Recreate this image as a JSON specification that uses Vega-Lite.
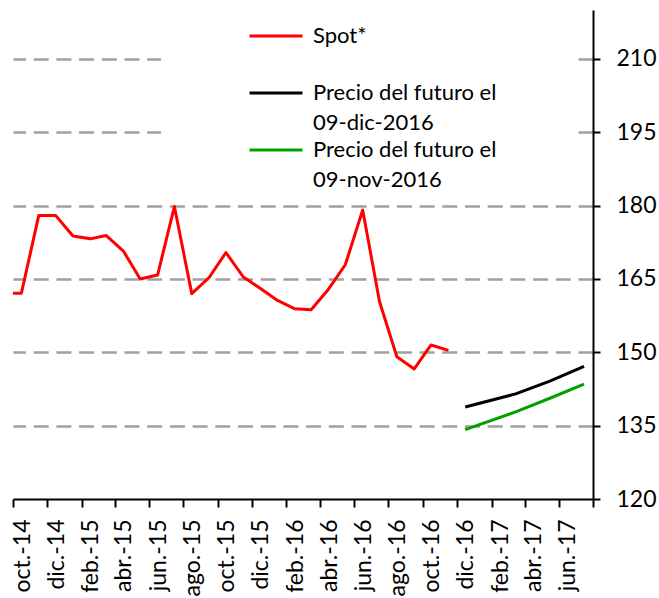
{
  "$schema": "https://vega.github.io/schema/vega-lite/v6.json",
  "autosize": {"type": "none"},
  "width": 580,
  "height": 489,
  "padding": {"left": 13, "top": 10, "right": 66, "bottom": 99},
  "background": "white",
  "config": {
    "view": {"stroke": null},
    "font": "Lato",
    "style": {"guide-label": {"lineHeight": 30}}
  },
  "data": {
    "values": [
      {"fecha": "2014-09-16", "serie": "Spot*", "valor": 162.1},
      {"fecha": "2014-10-16", "serie": "Spot*", "valor": 162.1},
      {"fecha": "2014-11-16", "serie": "Spot*", "valor": 178.0},
      {"fecha": "2014-12-16", "serie": "Spot*", "valor": 178.0},
      {"fecha": "2015-01-16", "serie": "Spot*", "valor": 173.8},
      {"fecha": "2015-02-16", "serie": "Spot*", "valor": 173.2},
      {"fecha": "2015-03-16", "serie": "Spot*", "valor": 173.9},
      {"fecha": "2015-04-16", "serie": "Spot*", "valor": 170.7},
      {"fecha": "2015-05-16", "serie": "Spot*", "valor": 165.0},
      {"fecha": "2015-06-16", "serie": "Spot*", "valor": 165.8},
      {"fecha": "2015-07-16", "serie": "Spot*", "valor": 179.8},
      {"fecha": "2015-08-16", "serie": "Spot*", "valor": 162.0},
      {"fecha": "2015-09-16", "serie": "Spot*", "valor": 165.3},
      {"fecha": "2015-10-16", "serie": "Spot*", "valor": 170.4},
      {"fecha": "2015-11-16", "serie": "Spot*", "valor": 165.4},
      {"fecha": "2015-12-16", "serie": "Spot*", "valor": 163.1},
      {"fecha": "2016-01-16", "serie": "Spot*", "valor": 160.6},
      {"fecha": "2016-02-16", "serie": "Spot*", "valor": 158.9},
      {"fecha": "2016-03-16", "serie": "Spot*", "valor": 158.7},
      {"fecha": "2016-04-16", "serie": "Spot*", "valor": 162.9},
      {"fecha": "2016-05-16", "serie": "Spot*", "valor": 167.9},
      {"fecha": "2016-06-16", "serie": "Spot*", "valor": 179.1},
      {"fecha": "2016-07-16", "serie": "Spot*", "valor": 160.4},
      {"fecha": "2016-08-16", "serie": "Spot*", "valor": 149.1},
      {"fecha": "2016-09-16", "serie": "Spot*", "valor": 146.6},
      {"fecha": "2016-10-16", "serie": "Spot*", "valor": 151.5},
      {"fecha": "2016-11-16", "serie": "Spot*", "valor": 150.4},
      {"fecha": "2016-12-16", "serie": "Precio del futuro el 09-dic-2016", "valor": 138.8},
      {"fecha": "2017-03-16", "serie": "Precio del futuro el 09-dic-2016", "valor": 141.5},
      {"fecha": "2017-05-16", "serie": "Precio del futuro el 09-dic-2016", "valor": 144.1},
      {"fecha": "2017-07-16", "serie": "Precio del futuro el 09-dic-2016", "valor": 147.1},
      {"fecha": "2016-12-16", "serie": "Precio del futuro el 09-nov-2016", "valor": 134.2},
      {"fecha": "2017-03-16", "serie": "Precio del futuro el 09-nov-2016", "valor": 137.8},
      {"fecha": "2017-05-16", "serie": "Precio del futuro el 09-nov-2016", "valor": 140.6},
      {"fecha": "2017-07-16", "serie": "Precio del futuro el 09-nov-2016", "valor": 143.5}
    ]
  },
  "mark": {"type": "line", "clip": true, "strokeWidth": 3, "strokeJoin": "round"},
  "encoding": {
    "x": {
      "field": "fecha",
      "type": "temporal",
      "scale": {
        "type": "utc",
        "domain": [
          {"year": 2014, "month": 10, "date": 1, "utc": true},
          {"year": 2017, "month": 8, "date": 1, "utc": true}
        ]
      },
      "axis": {
        "title": null,
        "grid": false,
        "values": [
          {"year": 2014, "month": 10, "date": 1, "utc": true},
          {"year": 2014, "month": 12, "date": 1, "utc": true},
          {"year": 2015, "month": 2, "date": 1, "utc": true},
          {"year": 2015, "month": 4, "date": 1, "utc": true},
          {"year": 2015, "month": 6, "date": 1, "utc": true},
          {"year": 2015, "month": 8, "date": 1, "utc": true},
          {"year": 2015, "month": 10, "date": 1, "utc": true},
          {"year": 2015, "month": 12, "date": 1, "utc": true},
          {"year": 2016, "month": 2, "date": 1, "utc": true},
          {"year": 2016, "month": 4, "date": 1, "utc": true},
          {"year": 2016, "month": 6, "date": 1, "utc": true},
          {"year": 2016, "month": 8, "date": 1, "utc": true},
          {"year": 2016, "month": 10, "date": 1, "utc": true},
          {"year": 2016, "month": 12, "date": 1, "utc": true},
          {"year": 2017, "month": 2, "date": 1, "utc": true},
          {"year": 2017, "month": 4, "date": 1, "utc": true},
          {"year": 2017, "month": 6, "date": 1, "utc": true},
          {"year": 2017, "month": 8, "date": 1, "utc": true}
        ],
        "labelExpr": "(utcyear(datum.value) == 2017 && utcmonth(datum.value) == 7) ? '' : ['ene.','feb.','mar.','abr.','may.','jun.','jul.','ago.','sept.','oct.','nov.','dic.'][utcmonth(datum.value)] + '-' + utcFormat(datum.value, '%y')",
        "labelAngle": -90,
        "labelOffset": 9,
        "labelPadding": 12,
        "labelFont": "Lato",
        "labelFontSize": 23,
        "labelColor": "black",
        "labelOverlap": false,
        "labelBound": false,
        "labelFlush": false,
        "domainColor": "black",
        "domainWidth": 2,
        "tickColor": "black",
        "tickWidth": 2,
        "tickSize": 8
      }
    },
    "y": {
      "field": "valor",
      "type": "quantitative",
      "scale": {"domain": [120, 220], "nice": false, "zero": false},
      "axis": {
        "title": null,
        "orient": "right",
        "values": [120, 135, 150, 165, 180, 195, 210],
        "grid": true,
        "gridColor": "#A0A0A0",
        "gridWidth": 2.3,
        "gridDash": [15, 7.7],
        "gridOpacity": {"condition": {"test": "datum.value == 120", "value": 0}, "value": 1},
        "domainColor": "black",
        "domainWidth": 2,
        "tickColor": "black",
        "tickWidth": 2,
        "tickSize": 7,
        "labelPadding": 16,
        "labelFont": "Lato",
        "labelFontSize": 23,
        "labelColor": "black",
        "labelOverlap": false,
        "labelBound": false,
        "labelFlush": false
      }
    },
    "color": {
      "field": "serie",
      "type": "nominal",
      "scale": {
        "domain": ["Spot*", "Precio del futuro el 09-dic-2016", "Precio del futuro el 09-nov-2016"],
        "range": ["#FF0000", "#000000", "#00A000"]
      },
      "legend": {
        "orient": "none",
        "legendX": 148,
        "legendY": 3,
        "title": null,
        "fillColor": "white",
        "padding": 8,
        "symbolType": "M-2,0H2",
        "symbolSize": 702,
        "symbolStrokeWidth": 3,
        "symbolOffset": 92,
        "labelOffset": 22,
        "labelFont": "Lato",
        "labelFontSize": 22,
        "labelColor": "black",
        "labelLimit": 600,
        "rowPadding": 1,
        "labelExpr": "datum.label == 'Spot*' ? ['Spot*', ' '] : [slice(datum.label, 0, 20) + '\u00a0\u00a0\u00a0\u00a0\u00a0\u00a0\u00a0\u00a0\u00a0\u00a0\u00a0\u00a0\u200b', slice(datum.label, 21)]"
      }
    }
  }
}
